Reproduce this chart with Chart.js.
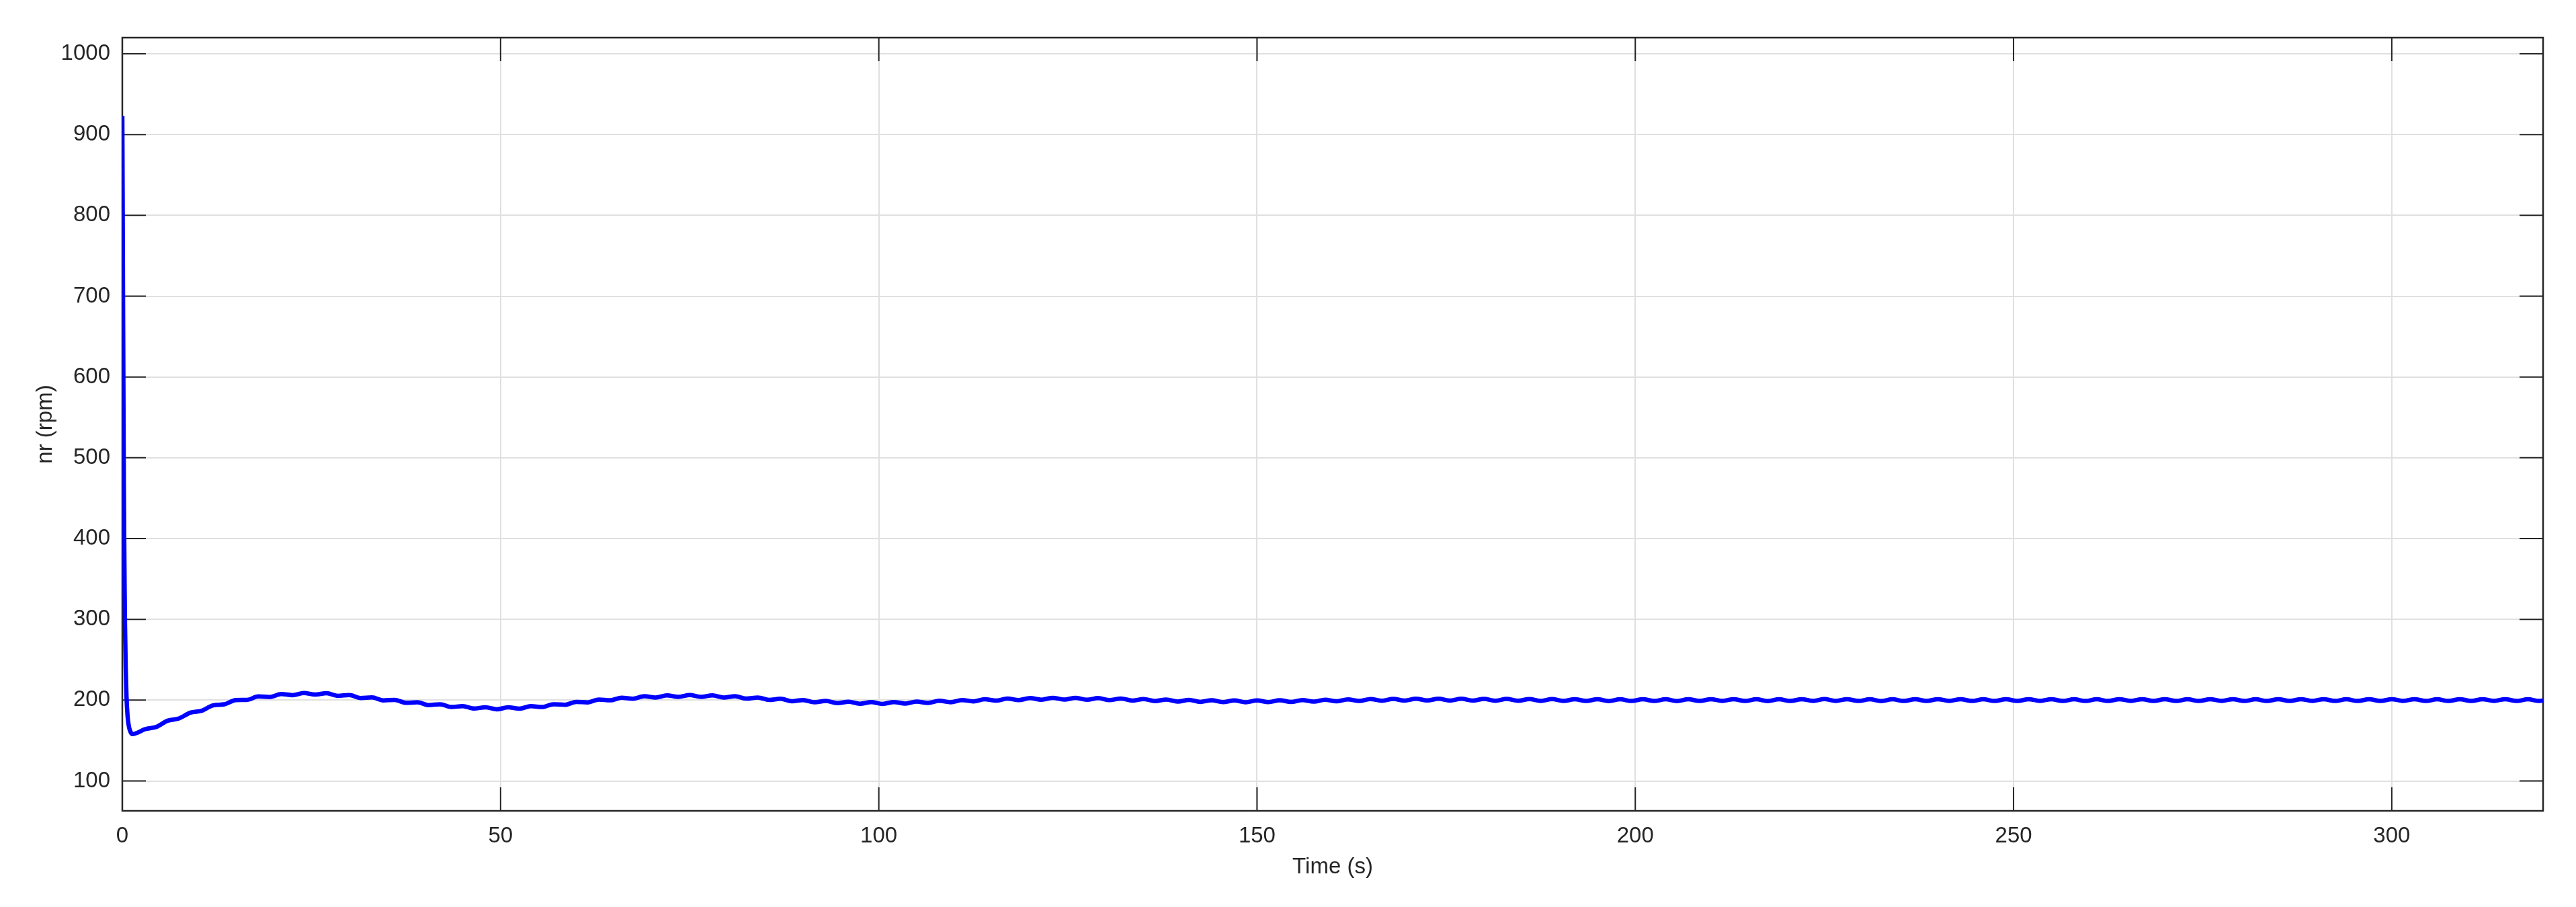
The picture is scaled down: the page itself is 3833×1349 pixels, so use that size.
<!DOCTYPE html>
<html>
<head>
<meta charset="utf-8">
<script src="https://cdn.jsdelivr.net/npm/chart.js@4.4.0/dist/chart.umd.min.js"></script>
<style>
  html, body { margin: 0; padding: 0; background: #fff; }
  canvas { display: block; }
</style>
</head>
<body>
<canvas id="speedChart" width="3833" height="1349"></canvas>
<script>
// rotor speed nr (rpm) against time
const timeS = [
  0, 0.05, 0.1, 0.15, 0.2, 0.25, 0.3, 0.35, 0.45, 0.55, 0.7, 0.9, 1.15, 1.4, 2,
  3, 4.5, 6, 7.5, 9, 10.5, 12, 13.5, 15, 16.5,
  18, 19.5, 21, 22.5, 24, 25.5, 27, 28.5, 30, 31.5,
  33, 34.5, 36, 37.5, 39, 40.5, 42, 43.5, 45, 46.5,
  48, 49.5, 51, 52.5, 54, 55.5, 57, 58.5, 60, 61.5,
  63, 64.5, 66, 67.5, 69, 70.5, 72, 73.5, 75, 76.5,
  78, 79.5, 81, 82.5, 84, 85.5, 87, 88.5, 90, 91.5,
  93, 94.5, 96, 97.5, 99, 100.5, 102, 103.5, 105, 106.5,
  108, 109.5, 111, 112.5, 114, 115.5, 117, 118.5, 120, 121.5,
  123, 124.5, 126, 127.5, 129, 130.5, 132, 133.5, 135, 136.5,
  138, 139.5, 141, 142.5, 144, 145.5, 147, 148.5, 150, 151.5,
  153, 154.5, 156, 157.5, 159, 160.5, 162, 163.5, 165, 166.5,
  168, 169.5, 171, 172.5, 174, 175.5, 177, 178.5, 180, 181.5,
  183, 184.5, 186, 187.5, 189, 190.5, 192, 193.5, 195, 196.5,
  198, 199.5, 201, 202.5, 204, 205.5, 207, 208.5, 210, 211.5,
  213, 214.5, 216, 217.5, 219, 220.5, 222, 223.5, 225, 226.5,
  228, 229.5, 231, 232.5, 234, 235.5, 237, 238.5, 240, 241.5,
  243, 244.5, 246, 247.5, 249, 250.5, 252, 253.5, 255, 256.5,
  258, 259.5, 261, 262.5, 264, 265.5, 267, 268.5, 270, 271.5,
  273, 274.5, 276, 277.5, 279, 280.5, 282, 283.5, 285, 286.5,
  288, 289.5, 291, 292.5, 294, 295.5, 297, 298.5, 300, 301.5,
  303, 304.5, 306, 307.5, 309, 310.5, 312, 313.5, 315, 316.5,
  318, 319.5, 320
];
const speedRpm = [
  923, 800, 680, 570, 470, 400, 340, 295, 240, 205, 180, 166, 159.5, 158, 159.8,
  164.1, 166.9, 174.6, 177.4, 184.6, 186.9, 193.6, 194.9, 200.1, 200.4,
  204.6, 203.9, 207.6, 206.2, 208.9, 206.9, 208.6, 205.4, 206.3, 202.7,
  203.4, 199.7, 200.4, 196.7, 197.4, 193.9, 194.9, 191.5, 192.7, 189.6,
  191.2, 188.7, 191.1, 189.5, 192.6, 191.5, 195.0, 194.2, 197.9, 197.2,
  200.8, 199.8, 203.1, 201.8, 204.8, 203.2, 205.9, 204.0, 206.3, 204.0,
  205.9, 203.2, 204.8, 201.9, 203.3, 200.3, 201.7, 198.7, 200.2, 197.4,
  199.0, 196.3, 198.1, 195.6, 197.6, 195.4, 197.7, 195.8, 198.3, 196.5,
  199.2, 197.5, 200.2, 198.5, 201.2, 199.4, 202.0, 200.1, 202.6, 200.6,
  202.9, 200.7, 202.8, 200.5, 202.5, 200.1, 202.0, 199.5, 201.4, 198.9,
  200.8, 198.3, 200.3, 197.9, 199.9, 197.6, 199.7, 197.5, 199.7, 197.6,
  199.9, 197.8, 200.2, 198.2, 200.6, 198.6, 201.0, 199.0, 201.4, 199.3,
  201.6, 199.5, 201.8, 199.6, 201.8, 199.5, 201.7, 199.4, 201.6, 199.3,
  201.5, 199.2, 201.4, 199.1, 201.3, 199.0, 201.2, 199.0, 201.2, 198.9,
  201.1, 199.0, 201.2, 199.0, 201.1, 198.9, 201.2, 199.0, 201.2, 199.1,
  201.2, 199.0, 201.1, 198.9, 201.1, 199.0, 201.2, 199.1, 201.3, 199.1,
  201.2, 199.0, 201.1, 198.9, 201.1, 199.0, 201.2, 199.0, 201.2, 199.1,
  201.2, 199.0, 201.1, 199.0, 201.2, 199.0, 201.2, 199.1, 201.2, 199.0,
  201.1, 199.0, 201.1, 199.0, 201.2, 199.1, 201.2, 199.0, 201.2, 199.0,
  201.1, 199.0, 201.2, 199.1, 201.2, 199.0, 201.1, 199.0, 201.2, 199.0,
  201.2, 199.1, 201.2, 199.0, 201.1, 199.0, 201.2, 199.0, 201.2, 199.1,
  201.2, 199.0, 201.1, 199.0, 201.2, 199.0, 201.2, 199.1, 201.2, 199.0,
  201.1, 199.0, 199.6
];
const xTicks = [0, 50, 100, 150, 200, 250, 300];
const yTicks = [100, 200, 300, 400, 500, 600, 700, 800, 900, 1000];
const xLimits = [0, 320];
const yLimits = [63, 1020];

const axisColor = '#262626';
const fontFamily = '"Liberation Sans", Arial, Helvetica, sans-serif';

// matlab style box with ticks pointing inwards on all four sides
const boxTicks = {
  id: 'boxTicks',
  beforeDatasetsDraw(chart) {
    const { ctx, chartArea: a, scales: { x, y } } = chart;
    const len = 35;
    ctx.save();
    ctx.strokeStyle = axisColor;
    ctx.lineWidth = 2;
    ctx.beginPath();
    x.ticks.forEach(t => {
      const px = x.getPixelForValue(t.value);
      ctx.moveTo(px, a.bottom); ctx.lineTo(px, a.bottom - len);
      ctx.moveTo(px, a.top); ctx.lineTo(px, a.top + len);
    });
    y.ticks.forEach(t => {
      const py = y.getPixelForValue(t.value);
      ctx.moveTo(a.left, py); ctx.lineTo(a.left + len, py);
      ctx.moveTo(a.right, py); ctx.lineTo(a.right - len, py);
    });
    ctx.stroke();
    ctx.lineWidth = 2.5;
    ctx.strokeRect(a.left, a.top, a.right - a.left, a.bottom - a.top);
    ctx.restore();
  }
};

new Chart(document.getElementById('speedChart'), {
  type: 'line',
  data: {
    datasets: [{
      data: timeS.map((t, i) => ({ x: t, y: speedRpm[i] })),
      borderColor: '#0000ff',
      borderWidth: 6.5,
      pointRadius: 0,
      fill: false,
      cubicInterpolationMode: 'monotone'
    }]
  },
  options: {
    responsive: false,
    animation: false,
    devicePixelRatio: 1,
    layout: { padding: { left: 0, right: 49, top: 56, bottom: 0 } },
    plugins: { legend: { display: false }, tooltip: { enabled: false } },
    scales: {
      x: {
        type: 'linear',
        min: xLimits[0],
        max: xLimits[1],
        afterBuildTicks: s => { s.ticks = xTicks.map(v => ({ value: v })); },
        afterFit: s => { s.height = 143; },
        grid: { color: '#e0e0e0', lineWidth: 2, drawTicks: false },
        border: { display: false },
        ticks: {
          padding: 18,
          color: axisColor,
          font: { family: fontFamily, size: 33 },
          maxRotation: 0,
          autoSkip: false,
          callback: v => String(v)
        },
        title: {
          display: true,
          text: 'Time (s)',
          color: axisColor,
          font: { family: fontFamily, size: 33 },
          padding: { top: 0, bottom: 39 }
        }
      },
      y: {
        type: 'linear',
        min: yLimits[0],
        max: yLimits[1],
        afterBuildTicks: s => { s.ticks = yTicks.map(v => ({ value: v })); },
        afterFit: s => { s.width = 182; },
        grid: { color: '#e0e0e0', lineWidth: 2, drawTicks: false },
        border: { display: false },
        ticks: {
          padding: 18,
          color: axisColor,
          font: { family: fontFamily, size: 33 },
          autoSkip: false,
          callback: v => String(v)
        },
        title: {
          display: true,
          text: 'nr (rpm)',
          color: axisColor,
          font: { family: fontFamily, size: 33 },
          padding: { top: 48, bottom: 0 }
        }
      }
    }
  },
  plugins: [boxTicks]
});
</script>
</body>
</html>
